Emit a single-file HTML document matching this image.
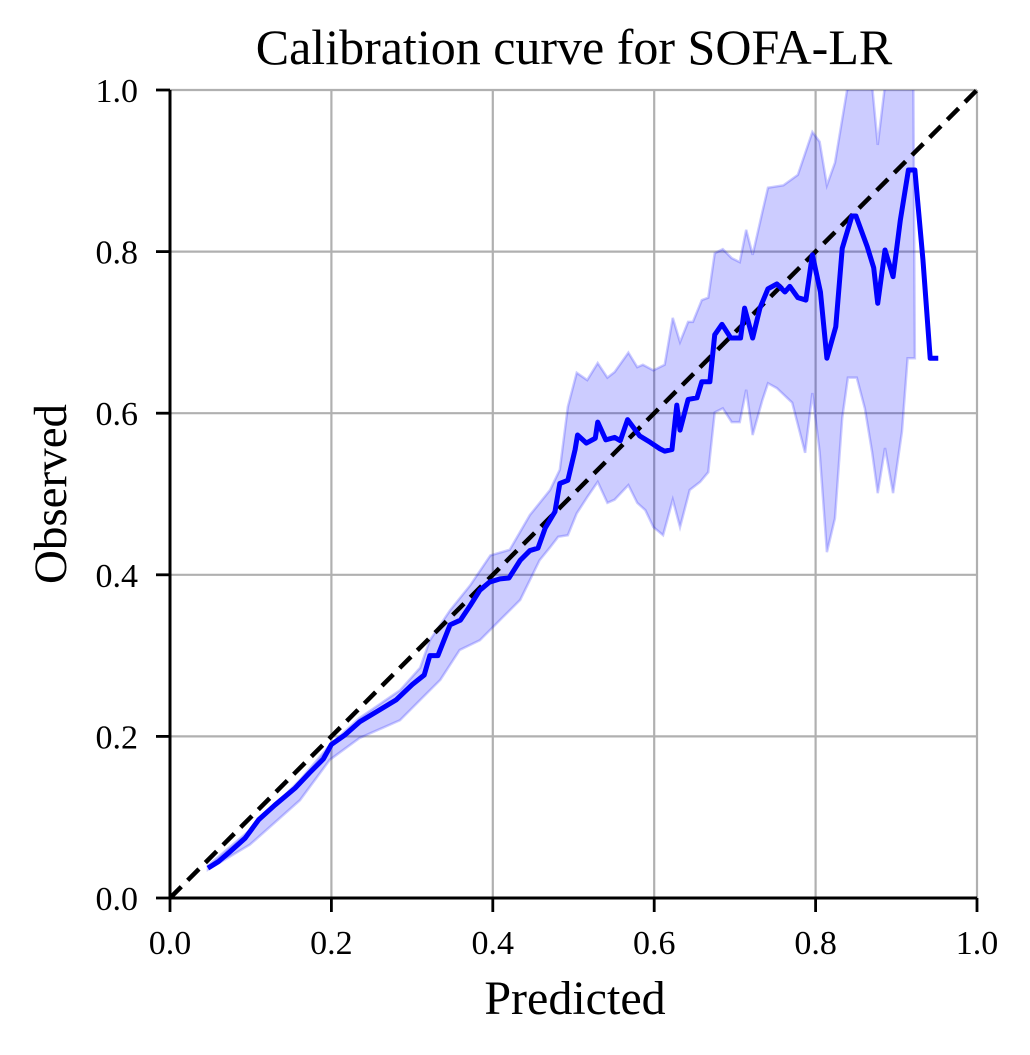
<!DOCTYPE html>
<html><head><meta charset="utf-8"><style>
body{margin:0;background:#fff;}
svg{display:block;font-family:"Liberation Serif",serif;}
</style></head><body>
<svg id="chart" width="1030" height="1055">
<defs><clipPath id="plotclip"><rect x="170" y="90" width="808" height="808"/></clipPath></defs>
<text x="574" y="64" font-size="50" text-anchor="middle">Calibration curve for SOFA-LR</text>
<g id="grid"></g>
<g id="band" clip-path="url(#plotclip)"></g>
<g id="diag"></g>
<g id="curve"></g>
<g id="axes"></g>
<text x="575" y="1014" font-size="48" text-anchor="middle">Predicted</text>
<text transform="translate(66,494) rotate(-90)" font-size="47" text-anchor="middle">Observed</text>
</svg>
<script>
const xTicks=[0,0.2,0.4,0.6,0.8,1.0];
const yTicks=[0,0.2,0.4,0.6,0.8,1.0];
const tickLabels=["0.0","0.2","0.4","0.6","0.8","1.0"];
const predX=[.047,.06,.074,.093,.11,.13,.155,.173,.19,.2,.217,.235,.26,.28,.30,.315,.322,.332,.347,.36,.372,.384,.396,.409,.42,.434,.446,.456,.465,.477,.483,.493,.502,.505,.516,.527,.53,.54,.551,.558,.567,.582,.595,.607,.613,.622,.628,.632,.642,.653,.659,.669,.675,.684,.695,.707,.712,.722,.731,.741,.752,.762,.768,.778,.788,.796,.806,.814,.825,.833,.845,.85,.864,.872,.877,.886,.896,.905,.915,.923,.933,.942,.952];
const obsY=[.037,.045,.057,.074,.097,.115,.136,.155,.172,.19,.202,.218,.233,.245,.264,.276,.30,.30,.338,.344,.362,.381,.391,.395,.396,.418,.43,.433,.458,.478,.513,.517,.555,.573,.563,.569,.589,.567,.57,.566,.592,.572,.564,.556,.553,.555,.61,.579,.617,.619,.639,.639,.697,.71,.693,.693,.73,.693,.73,.754,.76,.75,.757,.743,.74,.796,.75,.668,.707,.804,.844,.844,.806,.78,.736,.802,.769,.839,.901,.901,.79,.668,.668];
const upX=[.047,.099,.161,.198,.235,.285,.310,.322,.347,.372,.397,.421,.446,.471,.483,.493,.504,.517,.530,.542,.551,.568,.579,.586,.599,.613,.623,.632,.642,.648,.659,.667,.675,.685,.696,.706,.714,.722,.734,.741,.760,.778,.796,.805,.814,.824,.839,.855,.870,.877,.886,.905,.921];
const upY=[.040,.084,.146,.189,.223,.257,.285,.319,.356,.387,.424,.431,.474,.505,.530,.608,.650,.641,.662,.644,.651,.675,.657,.660,.653,.660,.718,.688,.713,.713,.740,.743,.798,.803,.792,.787,.827,.796,.849,.879,.882,.895,.948,.936,.882,.910,1.0,1.01,1.006,.932,1.006,1.04,1.04];
const loX=[.047,.099,.161,.198,.235,.285,.310,.335,.359,.384,.409,.434,.458,.471,.481,.493,.504,.517,.530,.542,.551,.568,.579,.589,.599,.611,.623,.632,.644,.657,.667,.675,.685,.696,.706,.714,.722,.734,.741,.752,.771,.787,.796,.805,.814,.824,.833,.840,.851,.861,.870,.877,.886,.896,.907,.914,.923];
const loY=[.035,.066,.121,.171,.198,.220,.245,.270,.307,.319,.344,.369,.418,.434,.447,.449,.476,.496,.515,.489,.493,.511,.489,.480,.459,.449,.493,.459,.505,.515,.527,.601,.606,.589,.589,.629,.573,.616,.637,.631,.613,.551,.625,.552,.428,.470,.594,.644,.644,.606,.552,.501,.557,.501,.577,.668,.668];

const NS="http://www.w3.org/2000/svg";
const X0=170,X1=977,Y0=898,Y1=90;
const sx=v=>X0+v*(X1-X0);
const sy=v=>Y0-v*(Y0-Y1);
function mk(tag,attrs,parent){const e=document.createElementNS(NS,tag);for(const k in attrs)e.setAttribute(k,attrs[k]);parent.appendChild(e);return e;}
const grid=document.getElementById('grid');
xTicks.forEach(t=>{if(t===0)return;const l=mk('line',{x1:sx(t),x2:sx(t),y1:Y0,y2:Y1,stroke:'#b0b0b0','stroke-width':2.2},grid);

});
yTicks.forEach(t=>{if(t===0)return;const l=mk('line',{x1:X0,x2:X1,y1:sy(t),y2:sy(t),stroke:'#b0b0b0','stroke-width':2.2},grid);

});

const band=document.getElementById('band');
let pts=upX.map((x,i)=>sx(x)+','+sy(upY[i]));
for(let i=loX.length-1;i>=0;i--)pts.push(sx(loX[i])+','+sy(loY[i]));
const poly=mk('polygon',{points:pts.join(' '),fill:'rgba(0,0,255,0.2)',stroke:'rgba(0,0,255,0.2)','stroke-width':2.5},band);



const diag=document.getElementById('diag');
const dl=mk('line',{x1:sx(0),y1:sy(0),x2:sx(1),y2:sy(1),stroke:'#000','stroke-width':4.5,'stroke-dasharray':'16,9'},diag);



const curve=document.getElementById('curve');
const pl=mk('polyline',{points:predX.map((x,i)=>sx(x)+','+sy(obsY[i])).join(' '),fill:'none',stroke:'#0000ff','stroke-width':5,'stroke-linejoin':'round'},curve);



const axes=document.getElementById('axes');
mk('line',{x1:X0,x2:X0,y1:Y0+1.5,y2:Y1,stroke:'#000','stroke-width':3},axes);
mk('line',{x1:X0-1.5,x2:X1,y1:Y0,y2:Y0,stroke:'#000','stroke-width':3},axes);
xTicks.forEach((t,i)=>{mk('line',{x1:sx(t),x2:sx(t),y1:Y0,y2:Y0+14,stroke:'#000','stroke-width':2.8},axes);
const tx=mk('text',{x:sx(t),y:Y0+56,'font-size':34,'text-anchor':'middle'},axes);tx.textContent=tickLabels[i];

});
yTicks.forEach((t,i)=>{mk('line',{x1:X0-14,x2:X0,y1:sy(t),y2:sy(t),stroke:'#000','stroke-width':2.8},axes);
const tx=mk('text',{x:X0-32,y:sy(t)+12,'font-size':34,'text-anchor':'end'},axes);tx.textContent=tickLabels[i];

});
</script>
</body></html>
